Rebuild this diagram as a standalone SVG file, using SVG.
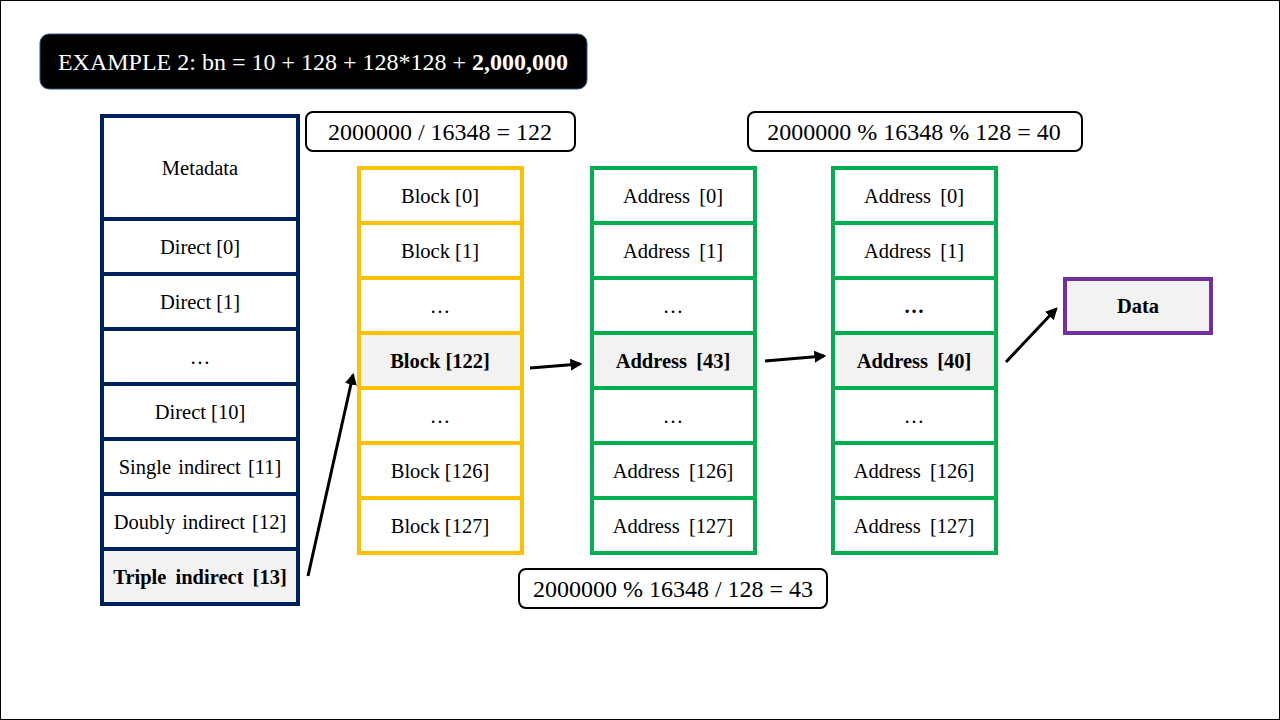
<svg xmlns="http://www.w3.org/2000/svg" width="1280" height="720" viewBox="0 0 1280 720">
<defs>
<style>
text{font-family:"Liberation Serif","Times New Roman",serif;fill:#000;text-anchor:middle;dominant-baseline:central}
.c{font-size:20.5px}
.b{font-weight:bold}
.lbl{font-size:24px}
.hl{fill:#F2F2F2}
.box{fill:#fff;stroke:#000;stroke-width:2}
.con{stroke:#000;stroke-width:3;fill:none;marker-end:url(#ah)}
</style>
<marker id="ah" viewBox="0 0 10 10" refX="8" refY="5" markerWidth="4" markerHeight="4" orient="auto" markerUnits="strokeWidth">
<path d="M0,0 L10,5 L0,10 z" fill="#000"/>
</marker>
</defs>
<rect x="0.5" y="0.5" width="1279" height="719" fill="#fff" stroke="#000" stroke-width="1"/>

<g id="title">
<rect x="40" y="34" width="547" height="55" rx="9" fill="#000" stroke="#2F528F" stroke-width="1"/>
<text x="313" y="62" style="font-size:24px;fill:#fff">EXAMPLE 2: bn = 10 + 128 + 128*128 + <tspan font-weight="bold" style="fill:#fff">2,000,000</tspan></text>
</g>

<g id="inode">
<rect x="102" y="549" width="196" height="55" class="hl"/>
<rect x="102" y="116" width="196" height="488" style="fill:none;stroke:#002060;stroke-width:4"/>
<g stroke="#002060" stroke-width="4">
<line x1="102" y1="219" x2="298" y2="219"/>
<line x1="102" y1="274" x2="298" y2="274"/>
<line x1="102" y1="329" x2="298" y2="329"/>
<line x1="102" y1="384" x2="298" y2="384"/>
<line x1="102" y1="439" x2="298" y2="439"/>
<line x1="102" y1="494" x2="298" y2="494"/>
<line x1="102" y1="549" x2="298" y2="549"/>
</g>
<text x="200" y="168" class="c">Metadata</text>
<text x="200" y="247" class="c">Direct [0]</text>
<text x="200" y="302" class="c">Direct [1]</text>
<text x="200" y="357" class="c">…</text>
<text x="200" y="412" class="c">Direct [10]</text>
<text x="200" y="467" class="c" word-spacing="2">Single indirect [11]</text>
<text x="200" y="522" class="c" word-spacing="2">Doubly indirect [12]</text>
<text x="200" y="577" class="c b" word-spacing="4">Triple indirect [13]</text>
</g>

<g id="label1">
<rect x="306" y="112" width="269" height="39" rx="7" class="box"/>
<text x="440" y="132" class="lbl">2000000 / 16348 = 122</text>
</g>

<g id="block">
<rect x="359" y="333" width="163" height="55" class="hl"/>
<rect x="359" y="168" width="163" height="385" style="fill:none;stroke:#FFC000;stroke-width:4"/>
<g stroke="#FFC000" stroke-width="4">
<line x1="359" y1="223" x2="522" y2="223"/>
<line x1="359" y1="278" x2="522" y2="278"/>
<line x1="359" y1="333" x2="522" y2="333"/>
<line x1="359" y1="388" x2="522" y2="388"/>
<line x1="359" y1="443" x2="522" y2="443"/>
<line x1="359" y1="498" x2="522" y2="498"/>
</g>
<text x="440" y="196" class="c">Block [0]</text>
<text x="440" y="251" class="c">Block [1]</text>
<text x="440" y="306" class="c">…</text>
<text x="440" y="361" class="c b">Block [122]</text>
<text x="440" y="416" class="c">…</text>
<text x="440" y="471" class="c">Block [126]</text>
<text x="440" y="526" class="c">Block [127]</text>
</g>

<g id="addr1">
<rect x="592" y="333" width="163" height="55" class="hl"/>
<rect x="592" y="168" width="163" height="385" style="fill:none;stroke:#00B050;stroke-width:4"/>
<g stroke="#00B050" stroke-width="4">
<line x1="592" y1="223" x2="755" y2="223"/>
<line x1="592" y1="278" x2="755" y2="278"/>
<line x1="592" y1="333" x2="755" y2="333"/>
<line x1="592" y1="388" x2="755" y2="388"/>
<line x1="592" y1="443" x2="755" y2="443"/>
<line x1="592" y1="498" x2="755" y2="498"/>
</g>
<text x="673" y="196" class="c" word-spacing="4">Address [0]</text>
<text x="673" y="251" class="c" word-spacing="4">Address [1]</text>
<text x="673" y="306" class="c">…</text>
<text x="673" y="361" class="c b" word-spacing="4">Address [43]</text>
<text x="673" y="416" class="c">…</text>
<text x="673" y="471" class="c" word-spacing="4">Address [126]</text>
<text x="673" y="526" class="c" word-spacing="4">Address [127]</text>
</g>

<g id="label2">
<rect x="519" y="569" width="308" height="39" rx="7" class="box"/>
<text x="673" y="589" class="lbl">2000000 % 16348 / 128 = 43</text>
</g>

<g id="addr2">
<rect x="833" y="333" width="163" height="55" class="hl"/>
<rect x="833" y="168" width="163" height="385" style="fill:none;stroke:#00B050;stroke-width:4"/>
<g stroke="#00B050" stroke-width="4">
<line x1="833" y1="223" x2="996" y2="223"/>
<line x1="833" y1="278" x2="996" y2="278"/>
<line x1="833" y1="333" x2="996" y2="333"/>
<line x1="833" y1="388" x2="996" y2="388"/>
<line x1="833" y1="443" x2="996" y2="443"/>
<line x1="833" y1="498" x2="996" y2="498"/>
</g>
<text x="914" y="196" class="c" word-spacing="4">Address [0]</text>
<text x="914" y="251" class="c" word-spacing="4">Address [1]</text>
<text x="914" y="306" class="c b">…</text>
<text x="914" y="361" class="c b" word-spacing="4">Address [40]</text>
<text x="914" y="416" class="c">…</text>
<text x="914" y="471" class="c" word-spacing="4">Address [126]</text>
<text x="914" y="526" class="c" word-spacing="4">Address [127]</text>
</g>

<g id="label3">
<rect x="748" y="112" width="334" height="39" rx="7" class="box"/>
<text x="914" y="132" class="lbl">2000000 % 16348 % 128 = 40</text>
</g>

<g id="data">
<rect x="1065" y="279" width="146" height="54" style="fill:#F2F2F2;stroke:#7030A0;stroke-width:4"/>
<text x="1138" y="306" class="c b">Data</text>
</g>

<g id="connectors">
<line x1="308" y1="576" x2="353" y2="375" class="con"/>
<line x1="530" y1="368" x2="580" y2="364" class="con"/>
<line x1="765" y1="361" x2="824" y2="356" class="con"/>
<line x1="1006" y1="362" x2="1056" y2="309" class="con"/>
</g>
</svg>
